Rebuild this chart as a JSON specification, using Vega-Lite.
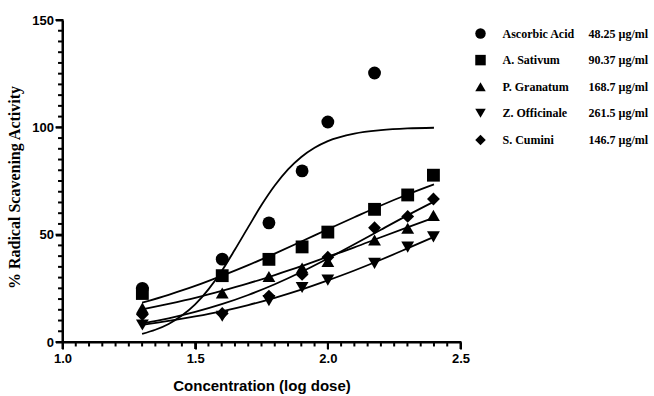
{
  "$schema": "https://vega.github.io/schema/vega-lite/v6.json",
  "width": 398,
  "height": 322,
  "autosize": {"type": "none"},
  "padding": {"left": 62.5, "top": 20, "right": 193.5, "bottom": 54},
  "background": "white",
  "config": {"view": {"stroke": null}, "axis": {"grid": false, "domain": true, "ticks": true}},
  "datasets": {
    "xdomain": [{"px": 1.0, "py": 0}, {"px": 2.5, "py": 0}],
    "ydomain": [{"px": 1.0, "py": 0}, {"px": 1.0, "py": 150}],
    "xmajor": [{"v": 1.0}, {"v": 1.5}, {"v": 2.0}, {"v": 2.5}],
    "xminor": [{"v": 1.05}, {"v": 1.1}, {"v": 1.15}, {"v": 1.2}, {"v": 1.25}, {"v": 1.3}, {"v": 1.35}, {"v": 1.4}, {"v": 1.45}, {"v": 1.55}, {"v": 1.6}, {"v": 1.65}, {"v": 1.7}, {"v": 1.75}, {"v": 1.8}, {"v": 1.85}, {"v": 1.9}, {"v": 1.95}, {"v": 2.05}, {"v": 2.1}, {"v": 2.15}, {"v": 2.2}, {"v": 2.25}, {"v": 2.3}, {"v": 2.35}, {"v": 2.4}, {"v": 2.45}],
    "ymajor": [{"v": 0}, {"v": 50}, {"v": 100}, {"v": 150}],
    "yminor": [{"v": 5}, {"v": 10}, {"v": 15}, {"v": 20}, {"v": 25}, {"v": 30}, {"v": 35}, {"v": 40}, {"v": 45}, {"v": 55}, {"v": 60}, {"v": 65}, {"v": 70}, {"v": 75}, {"v": 80}, {"v": 85}, {"v": 90}, {"v": 95}, {"v": 105}, {"v": 110}, {"v": 115}, {"v": 120}, {"v": 125}, {"v": 130}, {"v": 135}, {"v": 140}, {"v": 145}],
    "pts": [
      {"series": "Ascorbic Acid", "ic50": "48.25 µg/ml", "logdose": 1.301, "activity": 25.0},
      {"series": "Ascorbic Acid", "ic50": "48.25 µg/ml", "logdose": 1.602, "activity": 38.6},
      {"series": "Ascorbic Acid", "ic50": "48.25 µg/ml", "logdose": 1.778, "activity": 55.5},
      {"series": "Ascorbic Acid", "ic50": "48.25 µg/ml", "logdose": 1.903, "activity": 79.7},
      {"series": "Ascorbic Acid", "ic50": "48.25 µg/ml", "logdose": 2.0, "activity": 102.5},
      {"series": "Ascorbic Acid", "ic50": "48.25 µg/ml", "logdose": 2.176, "activity": 125.3},
      {"series": "A. Sativum", "ic50": "90.37 µg/ml", "logdose": 1.301, "activity": 22.6},
      {"series": "A. Sativum", "ic50": "90.37 µg/ml", "logdose": 1.602, "activity": 30.9},
      {"series": "A. Sativum", "ic50": "90.37 µg/ml", "logdose": 1.778, "activity": 38.5},
      {"series": "A. Sativum", "ic50": "90.37 µg/ml", "logdose": 1.903, "activity": 44.3},
      {"series": "A. Sativum", "ic50": "90.37 µg/ml", "logdose": 2.0, "activity": 51.2},
      {"series": "A. Sativum", "ic50": "90.37 µg/ml", "logdose": 2.176, "activity": 61.8},
      {"series": "A. Sativum", "ic50": "90.37 µg/ml", "logdose": 2.301, "activity": 68.5},
      {"series": "A. Sativum", "ic50": "90.37 µg/ml", "logdose": 2.398, "activity": 77.7},
      {"series": "P. Granatum", "ic50": "168.7 µg/ml", "logdose": 1.301, "activity": 15.8},
      {"series": "P. Granatum", "ic50": "168.7 µg/ml", "logdose": 1.602, "activity": 22.8},
      {"series": "P. Granatum", "ic50": "168.7 µg/ml", "logdose": 1.778, "activity": 30.5},
      {"series": "P. Granatum", "ic50": "168.7 µg/ml", "logdose": 1.903, "activity": 34.5},
      {"series": "P. Granatum", "ic50": "168.7 µg/ml", "logdose": 2.0, "activity": 37.5},
      {"series": "P. Granatum", "ic50": "168.7 µg/ml", "logdose": 2.176, "activity": 47.5},
      {"series": "P. Granatum", "ic50": "168.7 µg/ml", "logdose": 2.301, "activity": 53.0},
      {"series": "P. Granatum", "ic50": "168.7 µg/ml", "logdose": 2.398, "activity": 59.0},
      {"series": "Z. Officinale", "ic50": "261.5 µg/ml", "logdose": 1.301, "activity": 7.9},
      {"series": "Z. Officinale", "ic50": "261.5 µg/ml", "logdose": 1.602, "activity": 12.0},
      {"series": "Z. Officinale", "ic50": "261.5 µg/ml", "logdose": 1.778, "activity": 19.3},
      {"series": "Z. Officinale", "ic50": "261.5 µg/ml", "logdose": 1.903, "activity": 25.4},
      {"series": "Z. Officinale", "ic50": "261.5 µg/ml", "logdose": 2.0, "activity": 28.8},
      {"series": "Z. Officinale", "ic50": "261.5 µg/ml", "logdose": 2.176, "activity": 36.6},
      {"series": "Z. Officinale", "ic50": "261.5 µg/ml", "logdose": 2.301, "activity": 44.2},
      {"series": "Z. Officinale", "ic50": "261.5 µg/ml", "logdose": 2.398, "activity": 49.0},
      {"series": "S. Cumini", "ic50": "146.7 µg/ml", "logdose": 1.301, "activity": 12.8},
      {"series": "S. Cumini", "ic50": "146.7 µg/ml", "logdose": 1.602, "activity": 13.3},
      {"series": "S. Cumini", "ic50": "146.7 µg/ml", "logdose": 1.778, "activity": 21.4},
      {"series": "S. Cumini", "ic50": "146.7 µg/ml", "logdose": 1.903, "activity": 31.5},
      {"series": "S. Cumini", "ic50": "146.7 µg/ml", "logdose": 2.0, "activity": 39.5},
      {"series": "S. Cumini", "ic50": "146.7 µg/ml", "logdose": 2.176, "activity": 53.2},
      {"series": "S. Cumini", "ic50": "146.7 µg/ml", "logdose": 2.301, "activity": 58.5},
      {"series": "S. Cumini", "ic50": "146.7 µg/ml", "logdose": 2.398, "activity": 66.6}
    ],
    "fit": [
      {"series": "Ascorbic Acid", "logdose": 1.3, "fitted": 3.8},
      {"series": "Ascorbic Acid", "logdose": 1.35, "fitted": 5.7},
      {"series": "Ascorbic Acid", "logdose": 1.4, "fitted": 8.4},
      {"series": "Ascorbic Acid", "logdose": 1.45, "fitted": 12.3},
      {"series": "Ascorbic Acid", "logdose": 1.5, "fitted": 17.5},
      {"series": "Ascorbic Acid", "logdose": 1.55, "fitted": 24.5},
      {"series": "Ascorbic Acid", "logdose": 1.6, "fitted": 33.1},
      {"series": "Ascorbic Acid", "logdose": 1.65, "fitted": 43.1},
      {"series": "Ascorbic Acid", "logdose": 1.7, "fitted": 53.5},
      {"series": "Ascorbic Acid", "logdose": 1.75, "fitted": 63.8},
      {"series": "Ascorbic Acid", "logdose": 1.8, "fitted": 72.9},
      {"series": "Ascorbic Acid", "logdose": 1.85, "fitted": 80.4},
      {"series": "Ascorbic Acid", "logdose": 1.9, "fitted": 86.2},
      {"series": "Ascorbic Acid", "logdose": 1.95, "fitted": 90.5},
      {"series": "Ascorbic Acid", "logdose": 2.0, "fitted": 93.6},
      {"series": "Ascorbic Acid", "logdose": 2.1, "fitted": 97.1},
      {"series": "Ascorbic Acid", "logdose": 2.2, "fitted": 98.7},
      {"series": "Ascorbic Acid", "logdose": 2.3, "fitted": 99.5},
      {"series": "Ascorbic Acid", "logdose": 2.4, "fitted": 99.8},
      {"series": "A. Sativum", "logdose": 1.3, "fitted": 18.3},
      {"series": "A. Sativum", "logdose": 1.4, "fitted": 22.0},
      {"series": "A. Sativum", "logdose": 1.5, "fitted": 26.1},
      {"series": "A. Sativum", "logdose": 1.6, "fitted": 30.8},
      {"series": "A. Sativum", "logdose": 1.7, "fitted": 35.8},
      {"series": "A. Sativum", "logdose": 1.8, "fitted": 41.2},
      {"series": "A. Sativum", "logdose": 1.9, "fitted": 46.8},
      {"series": "A. Sativum", "logdose": 2.0, "fitted": 52.5},
      {"series": "A. Sativum", "logdose": 2.1, "fitted": 58.1},
      {"series": "A. Sativum", "logdose": 2.2, "fitted": 63.6},
      {"series": "A. Sativum", "logdose": 2.3, "fitted": 68.7},
      {"series": "A. Sativum", "logdose": 2.4, "fitted": 73.4},
      {"series": "P. Granatum", "logdose": 1.3, "fitted": 15.2},
      {"series": "P. Granatum", "logdose": 1.4, "fitted": 17.8},
      {"series": "P. Granatum", "logdose": 1.5, "fitted": 20.6},
      {"series": "P. Granatum", "logdose": 1.6, "fitted": 23.8},
      {"series": "P. Granatum", "logdose": 1.7, "fitted": 27.3},
      {"series": "P. Granatum", "logdose": 1.8, "fitted": 31.2},
      {"series": "P. Granatum", "logdose": 1.9, "fitted": 35.3},
      {"series": "P. Granatum", "logdose": 2.0, "fitted": 39.7},
      {"series": "P. Granatum", "logdose": 2.1, "fitted": 44.1},
      {"series": "P. Granatum", "logdose": 2.2, "fitted": 48.8},
      {"series": "P. Granatum", "logdose": 2.3, "fitted": 53.4},
      {"series": "P. Granatum", "logdose": 2.4, "fitted": 57.9},
      {"series": "Z. Officinale", "logdose": 1.3, "fitted": 8.0},
      {"series": "Z. Officinale", "logdose": 1.4, "fitted": 9.8},
      {"series": "Z. Officinale", "logdose": 1.5, "fitted": 11.9},
      {"series": "Z. Officinale", "logdose": 1.6, "fitted": 14.3},
      {"series": "Z. Officinale", "logdose": 1.7, "fitted": 17.2},
      {"series": "Z. Officinale", "logdose": 1.8, "fitted": 20.6},
      {"series": "Z. Officinale", "logdose": 1.9, "fitted": 24.4},
      {"series": "Z. Officinale", "logdose": 2.0, "fitted": 28.7},
      {"series": "Z. Officinale", "logdose": 2.1, "fitted": 33.3},
      {"series": "Z. Officinale", "logdose": 2.2, "fitted": 38.3},
      {"series": "Z. Officinale", "logdose": 2.3, "fitted": 43.6},
      {"series": "Z. Officinale", "logdose": 2.4, "fitted": 49.0},
      {"series": "S. Cumini", "logdose": 1.3, "fitted": 8.6},
      {"series": "S. Cumini", "logdose": 1.4, "fitted": 11.0},
      {"series": "S. Cumini", "logdose": 1.5, "fitted": 14.0},
      {"series": "S. Cumini", "logdose": 1.6, "fitted": 17.6},
      {"series": "S. Cumini", "logdose": 1.7, "fitted": 21.9},
      {"series": "S. Cumini", "logdose": 1.8, "fitted": 26.9},
      {"series": "S. Cumini", "logdose": 1.9, "fitted": 32.6},
      {"series": "S. Cumini", "logdose": 2.0, "fitted": 38.9},
      {"series": "S. Cumini", "logdose": 2.1, "fitted": 45.5},
      {"series": "S. Cumini", "logdose": 2.2, "fitted": 52.3},
      {"series": "S. Cumini", "logdose": 2.3, "fitted": 59.0},
      {"series": "S. Cumini", "logdose": 2.4, "fitted": 65.4}
    ]
  },
  "layer": [
    {
      "data": {"name": "fit"},
      "mark": {"type": "line", "color": "black", "strokeWidth": 1.8, "interpolate": "monotone", "clip": false},
      "encoding": {
        "x": {"field": "logdose", "type": "quantitative",
              "scale": {"domain": [1.0, 2.5], "nice": false, "zero": false}, "axis": null},
        "y": {"field": "fitted", "type": "quantitative",
              "scale": {"domain": [0, 150], "nice": false}, "axis": null},
        "detail": {"field": "series"}
      }
    },
    {
      "data": {"name": "xdomain"},
      "mark": {"type": "line", "color": "black", "strokeWidth": 2, "strokeCap": "square", "clip": false},
      "encoding": {
        "x": {"field": "px", "type": "quantitative", "axis": null},
        "y": {"field": "py", "type": "quantitative", "axis": null}
      }
    },
    {
      "data": {"name": "ydomain"},
      "mark": {"type": "line", "color": "black", "strokeWidth": 2, "strokeCap": "square", "clip": false},
      "encoding": {
        "x": {"field": "px", "type": "quantitative", "axis": null},
        "y": {"field": "py", "type": "quantitative", "axis": null}
      }
    },
    {
      "data": {"name": "xmajor"},
      "mark": {"type": "point", "shape": "M0,0L0,2", "size": 49, "filled": false, "stroke": "black", "strokeWidth": 2, "opacity": 1, "clip": false},
      "encoding": {
        "x": {"field": "v", "type": "quantitative", "axis": null},
        "y": {"datum": 0, "axis": null}
      }
    },
    {
      "data": {"name": "xminor"},
      "mark": {"type": "point", "shape": "M0,0L0,2", "size": 20, "filled": false, "stroke": "black", "strokeWidth": 2, "opacity": 1, "clip": false},
      "encoding": {
        "x": {"field": "v", "type": "quantitative", "axis": null},
        "y": {"datum": 0, "axis": null}
      }
    },
    {
      "data": {"name": "ymajor"},
      "mark": {"type": "point", "shape": "M0,0L-2,0", "size": 49, "filled": false, "stroke": "black", "strokeWidth": 2, "opacity": 1, "clip": false},
      "encoding": {
        "x": {"datum": 1.0, "axis": null},
        "y": {"field": "v", "type": "quantitative", "axis": null}
      }
    },
    {
      "data": {"name": "yminor"},
      "mark": {"type": "point", "shape": "M0,0L-2,0", "size": 20, "filled": false, "stroke": "black", "strokeWidth": 2, "opacity": 1, "clip": false},
      "encoding": {
        "x": {"datum": 1.0, "axis": null},
        "y": {"field": "v", "type": "quantitative", "axis": null}
      }
    },
    {
      "data": {"name": "pts"},
      "mark": {"type": "point", "filled": true, "opacity": 1, "size": 165, "clip": false},
      "encoding": {
        "x": {"field": "logdose", "type": "quantitative",
              "axis": {"orient": "bottom", "values": [1.0, 1.5, 2.0, 2.5], "format": ".1f", "labelFlush": false,
                       "title": "Concentration (log dose)", "titleFont": "Liberation Sans", "titleFontSize": 15, "titleFontWeight": "bold", "titleColor": "black", "titlePadding": 13,
                       "labelFont": "Liberation Sans", "labelFontSize": 13, "labelFontWeight": "bold", "labelColor": "black", "labelPadding": 3,
                       "domain": true, "ticks": true,
                       "domainColor": "black", "domainWidth": 2, "tickSize": 7, "tickWidth": 2, "tickColor": "black"}},
        "y": {"field": "activity", "type": "quantitative",
              "axis": {"orient": "left", "values": [0, 50, 100, 150], "format": "d",
                       "title": "% Radical Scavening Activity", "titleFont": "Liberation Serif", "titleFontSize": 16, "titleFontWeight": "bold", "titleColor": "black", "titlePadding": 9, "titleY": 167,
                       "labelFont": "Liberation Sans", "labelFontSize": 13, "labelFontWeight": "bold", "labelColor": "black", "labelPadding": 2,
                       "domain": true, "ticks": true,
                       "domainColor": "black", "domainWidth": 2, "tickSize": 7, "tickWidth": 2, "tickColor": "black"}},
        "shape": {"field": "series", "type": "nominal",
                  "scale": {"domain": ["Ascorbic Acid", "A. Sativum", "P. Granatum", "Z. Officinale", "S. Cumini"],
                            "range": ["circle", "square", "triangle-up", "triangle-down", "diamond"]},
                  "legend": {"orient": "none", "legendX": 412, "legendY": 7.5, "title": null, "padding": 0,
                             "labelFont": "Liberation Serif", "labelFontSize": 12, "labelFontWeight": "bold", "labelColor": "black", "labelOffset": 16,
                             "symbolSize": 110, "symbolFillColor": "black", "symbolStrokeColor": "black", "symbolStrokeWidth": 0, "rowPadding": 14.6}},
        "color": {"field": "ic50", "type": "nominal",
                  "scale": {"domain": ["48.25 µg/ml", "90.37 µg/ml", "168.7 µg/ml", "261.5 µg/ml", "146.7 µg/ml"],
                            "range": ["black", "black", "black", "black", "black"]},
                  "legend": {"orient": "none", "legendX": 510, "legendY": 7.5, "title": null, "padding": 0,
                             "labelFont": "Liberation Serif", "labelFontSize": 12, "labelFontWeight": "bold", "labelColor": "black", "labelOffset": 4,
                             "symbolSize": 110, "symbolOpacity": 0, "rowPadding": 14.6}}
      }
    }
  ],
  "resolve": {"axis": {"x": "independent", "y": "independent"}}
}
